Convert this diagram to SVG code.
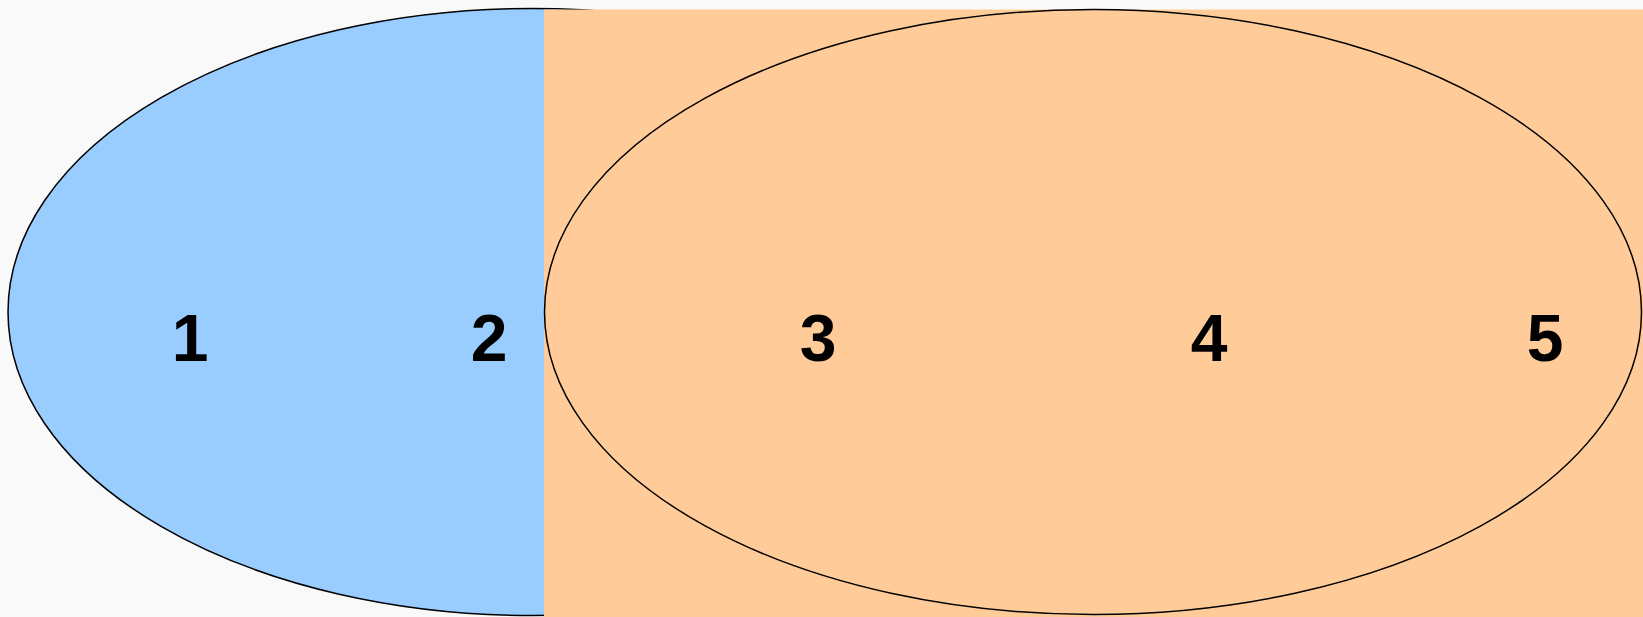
<svg xmlns="http://www.w3.org/2000/svg" width="1643" height="617" viewBox="0 0 1643 617">
<style>
.ol{fill:none;stroke:#000;stroke-width:1.5}
</style>
<rect x="0" y="0" width="1643" height="617" fill="#f9f9f9"/>
<g id="setA">
<ellipse cx="532" cy="312" rx="524" ry="303.5" fill="#99ccff" stroke="#000" stroke-width="1.5"/>
</g>
<g id="universe">
<rect x="544" y="9.5" width="1099" height="607.5" fill="#ffcc99"/>
</g>
<g id="setB">
<ellipse cx="1093" cy="312" rx="548.5" ry="302.5" class="ol"/>
</g>
<g id="labels" font-family="Liberation Sans, Arial, sans-serif" font-weight="bold" font-size="66" fill="#000" text-anchor="middle">
<text x="190" y="361">1</text>
<text x="489" y="361">2</text>
<text x="818" y="361">3</text>
<text x="1209" y="361">4</text>
<text x="1545" y="361">5</text>
</g>
</svg>
